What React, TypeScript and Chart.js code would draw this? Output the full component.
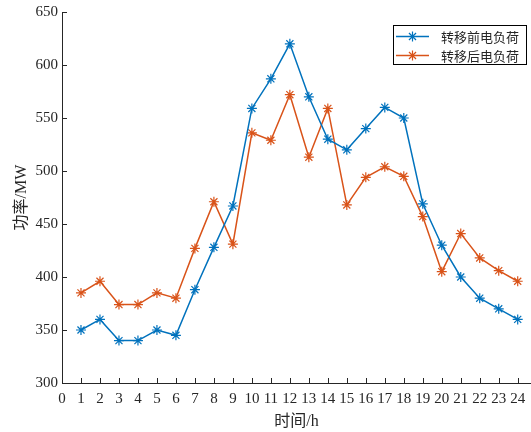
import React, { useEffect, useRef } from "react";
import { Chart, registerables } from "chart.js";

Chart.register(...registerables);

const hours = [1, 2, 3, 4, 5, 6, 7, 8, 9, 10, 11, 12, 13, 14, 15, 16, 17, 18, 19, 20, 21, 22, 23, 24];
const beforeLoad = [350, 360, 340, 340, 350, 345, 388, 428, 467, 559, 587, 620, 570, 530, 520, 540, 560, 550, 469, 430, 400, 380, 370, 360];
const afterLoad = [385, 396, 374, 374, 385, 380, 427, 471, 431, 536, 529, 572, 513, 559, 468, 494, 504, 495, 457, 405, 441, 418, 406, 396];
const xTicks = [0, 1, 2, 3, 4, 5, 6, 7, 8, 9, 10, 11, 12, 13, 14, 15, 16, 17, 18, 19, 20, 21, 22, 23, 24];
const yTicks = [300, 350, 400, 450, 500, 550, 600, 650];
const seriesNames = ["转移前电负荷", "转移后电负荷"];
const xTitle = "时间/h";
const yTitle = "功率/MW";

const BLUE = "#0072BD";
const ORANGE = "#D95319";
const INK = "#262626";
const SERIF = "'Liberation Serif', 'Times New Roman', 'Noto Sans CJK SC', serif";

function drawStar(ctx: CanvasRenderingContext2D, x: number, y: number, r: number) {
  ctx.beginPath();
  for (let i = 0; i < 4; i++) {
    const a = (i * Math.PI) / 4;
    ctx.moveTo(x - Math.cos(a) * r, y - Math.sin(a) * r);
    ctx.lineTo(x + Math.cos(a) * r, y + Math.sin(a) * r);
  }
  ctx.stroke();
}

const inwardTicks = {
  id: "inwardTicks",
  afterDatasetsDraw(chart: any) {
    const { ctx, chartArea, scales } = chart;
    ctx.save();
    ctx.strokeStyle = INK;
    ctx.lineWidth = 1;
    ctx.beginPath();
    xTicks.forEach((v) => {
      const px = Math.round(scales.x.getPixelForValue(v)) + 0.5;
      ctx.moveTo(px, chartArea.bottom);
      ctx.lineTo(px, chartArea.bottom - 5);
    });
    yTicks.forEach((v) => {
      const py = Math.round(scales.y.getPixelForValue(v)) + 0.5;
      ctx.moveTo(chartArea.left, py);
      ctx.lineTo(chartArea.left + 5, py);
    });
    ctx.stroke();
    ctx.restore();
  },
};

const boxLegend = {
  id: "boxLegend",
  afterDraw(chart: any) {
    const { ctx } = chart;
    const bx = 393.5, by = 25.5, bw = 133, bh = 39;
    ctx.save();
    ctx.fillStyle = "#ffffff";
    ctx.fillRect(bx, by, bw, bh);
    ctx.strokeStyle = "#000000";
    ctx.lineWidth = 1;
    ctx.strokeRect(bx, by, bw, bh);
    const colors = [BLUE, ORANGE];
    const rows = [36.5, 55.5];
    rows.forEach((ry, i) => {
      ctx.strokeStyle = colors[i];
      ctx.lineWidth = 1.5;
      ctx.beginPath();
      ctx.moveTo(396, ry);
      ctx.lineTo(429, ry);
      ctx.stroke();
      ctx.lineWidth = 1.2;
      drawStar(ctx, 412.5, ry, 5);
      ctx.fillStyle = INK;
      ctx.font = "13px 'Noto Sans CJK SC', sans-serif";
      ctx.textAlign = "left";
      ctx.textBaseline = "middle";
      ctx.fillText(seriesNames[i], 441, ry + 0.5);
    });
    ctx.restore();
  },
};

export default function App() {
  const ref = useRef<HTMLCanvasElement | null>(null);
  useEffect(() => {
    if (!ref.current) return;
    const chart = new Chart(ref.current, {
      type: "line",
      data: {
        datasets: [
          {
            label: seriesNames[0],
            data: hours.map((h, i) => ({ x: h, y: beforeLoad[i] })),
            borderColor: BLUE,
            backgroundColor: BLUE,
            borderWidth: 1.5,
            pointStyle: "star",
            pointRadius: 5,
            pointBorderWidth: 1.2,
            pointBorderColor: BLUE,
            tension: 0,
          },
          {
            label: seriesNames[1],
            data: hours.map((h, i) => ({ x: h, y: afterLoad[i] })),
            borderColor: ORANGE,
            backgroundColor: ORANGE,
            borderWidth: 1.5,
            pointStyle: "star",
            pointRadius: 5,
            pointBorderWidth: 1.2,
            pointBorderColor: ORANGE,
            tension: 0,
          },
        ],
      },
      options: {
        animation: false,
        responsive: false,
        events: [],
        layout: { autoPadding: false, padding: { top: 12, right: 0, left: 0, bottom: 0 } },
        plugins: { legend: { display: false }, tooltip: { enabled: false } },
        scales: {
          x: {
            type: "linear",
            min: 0,
            max: 24.7,
            afterBuildTicks: (scale: any) => {
              scale.ticks = xTicks.map((v) => ({ value: v }));
            },
            afterFit: (scale: any) => {
              scale.height = 49;
              scale.paddingLeft = 0;
              scale.paddingRight = 0;
            },
            grid: { display: false, drawTicks: false },
            border: { display: true, color: INK, width: 1 },
            ticks: {
              autoSkip: false,
              maxRotation: 0,
              padding: 7,
              color: INK,
              font: { family: SERIF, size: 15 },
            },
            title: {
              display: true,
              text: xTitle,
              color: INK,
              font: { family: SERIF, size: 16 },
              padding: { top: 0, bottom: 1 },
            },
          },
          y: {
            type: "linear",
            min: 300,
            max: 650,
            afterBuildTicks: (scale: any) => {
              scale.ticks = yTicks.map((v) => ({ value: v }));
            },
            afterFit: (scale: any) => {
              scale.width = 62;
              scale.paddingTop = 0;
              scale.paddingBottom = 0;
            },
            grid: { display: false, drawTicks: false },
            border: { display: true, color: INK, width: 1 },
            ticks: {
              padding: 4,
              color: INK,
              font: { family: SERIF, size: 15 },
            },
            title: {
              display: true,
              text: yTitle,
              color: INK,
              font: { family: SERIF, size: 16 },
              padding: { top: 12, bottom: 0 },
            },
          },
        },
      },
      plugins: [inwardTicks, boxLegend],
    });
    return () => chart.destroy();
  }, []);
  return (
    <canvas
      ref={ref}
      width={531}
      height={432}
      style={{ position: "fixed", left: 0, top: 0, width: 531, height: 432, background: "#fff" }}
    />
  );
}
